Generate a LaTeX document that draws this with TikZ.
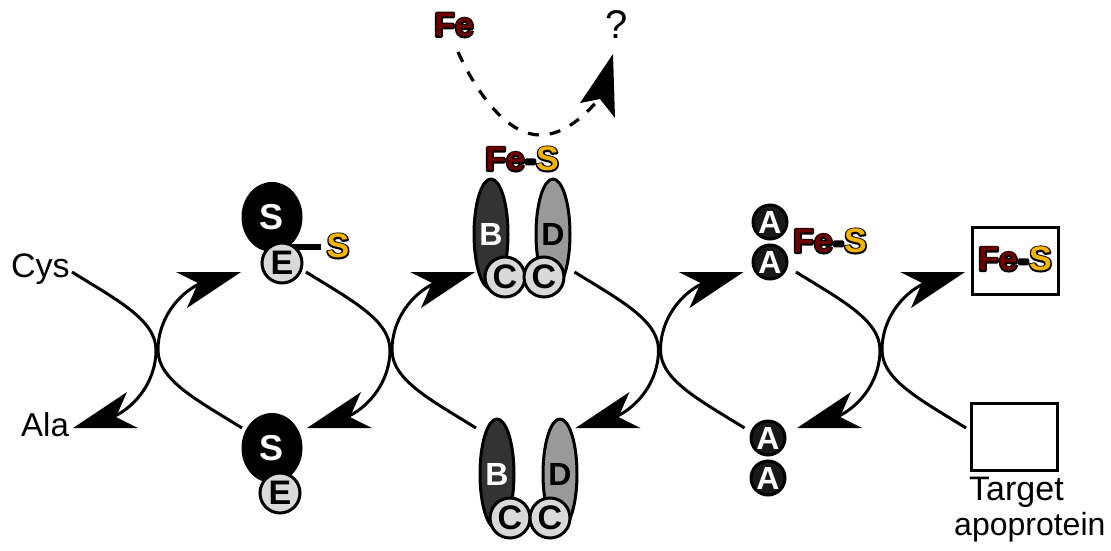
\documentclass[tikz,border=0pt]{standalone}
\usepackage{fontspec}
\setmainfont{Liberation Sans}
\usetikzlibrary{shapes.geometric}

\definecolor{fered}{RGB}{110,0,0}
\definecolor{sgold}{RGB}{245,180,0}
\definecolor{lightg}{RGB}{217,217,217}
\definecolor{darkg}{RGB}{51,51,51}
\definecolor{midg}{RGB}{153,153,153}
\definecolor{beadg}{RGB}{25,25,25}

\newcommand\fsz[1]{\fontsize{#1}{#1}\selectfont}
% coloured glyphs over a wide black stroke of the same glyphs
\newcommand\outl[2]{%
  \rlap{\color{black}\special{pdf:literal direct 0 G 1 Tr 3 w 1 j}#2\special{pdf:literal direct 0 Tr}}%
  {\color{#1}#2}}
\newcommand\fes{\outl{fered}{Fe}\outl{black}{-}\outl{sgold}{S}}

\tikzset{
  arc/.style={line width=3pt},
  % one curved transfer arrow, drawn around the centre of an exchange
  halfswap/.pic={
    \draw[arc] (85,78) .. controls (40,50) and (1,30) .. (1,0)
                       .. controls (1,-30) and (20,-55) .. (42,-66);
    \fill (84,-78) -- (19,-78) -- (41,-67) -- (30,-42) -- cycle;
  },
  % pair of crossing arrows between two neighbouring stages
  swap/.pic={
    \pic {halfswap};
    \pic[rotate=180] {halfswap};
  },
  dom/.style={ellipse, draw, line width=3pt, fill=black, inner sep=0pt,
    minimum width=58pt, minimum height=67pt, text=white, font=\bfseries\fsz{36}},
  subE/.style={circle, draw, line width=3pt, fill=lightg, inner sep=0pt,
    minimum size=40pt, font=\bfseries\fsz{34}},
  rod/.style={ellipse, draw, line width=3pt, inner sep=0pt,
    minimum width=34pt, minimum height=110pt, font=\bfseries\fsz{32}},
  bead/.style={circle, draw, line width=3pt, fill=beadg, inner sep=0pt,
    minimum size=34pt, text=white, font=\bfseries\fsz{32}},
  lbl/.style={font=\fsz{33}, inner sep=0pt},
  cluster/.style={font=\bfseries\fsz{34}, inner sep=0pt},
  apo/.style={draw, line width=3pt, minimum width=86pt, minimum height=67pt, inner sep=0pt},
}

\begin{document}
\begin{tikzpicture}[x=1pt,y=-1pt]
\useasboundingbox (0,0) rectangle (1111,551);

% exchange arrows between the stages
\pic at (157,350) {swap};
\pic at (391,350) {swap};
\pic at (659.5,350) {swap};
\pic at (881,350) {swap};

% substrate labels
\node[lbl, font=\fsz{34}, anchor=base west] (cys) at (11,277) {Cys};
\node[lbl, anchor=base west] (ala) at (21,436) {Ala};

% cysteine desulfurase with bound sulfur
\draw[line width=6pt] (290,247) -- (321,247);
\node[dom] (s1) at (272,217) {S};
\node[subE] (e1) at (282,263) {E};
\node[font=\bfseries\fsz{34}, inner sep=0pt] (sg) at (338,246) {\outl{sgold}{S}};

\node[dom] (s2) at (272,448) {S};
\node[subE] (e2) at (280,493) {E};

% scaffold complex with cluster
\node[rod, fill=darkg, text=white] (b1) at (491,234) {B};
\node[rod, fill=midg] (d1) at (553,234) {D};
\node[subE] (c1) at (505,277) {C};
\node[subE] (c2) at (544,277) {C};
\node[cluster] (fs1) at (522,159) {\fes};

\node[rod, fill=darkg, text=white] (b2) at (497,474) {B};
\node[rod, fill=midg] (d2) at (560,474) {D};
\node[subE] (c3) at (510,518) {C};
\node[subE] (c4) at (550,518) {C};

% iron supply
\node[cluster] (fe) at (454,25) {\outl{fered}{Fe}};
\node[font=\fsz{40}, inner sep=0pt] (q) at (617,25) {?};
\coordinate (dstart) at (458,52);
\coordinate (dend) at (600,98);
\draw[line width=3.2pt, dash pattern=on 11pt off 11pt] (dstart)
  .. controls (480,100) and (510,135) .. (540,135)
  .. controls (565,135) and (585,115) .. (dend);
\fill (613,54) -- (580,103) -- (600,99) -- (615,118) -- cycle;

% carrier dimer
\node[bead] (a1) at (770,222) {A};
\node[bead] (a2) at (770,262) {A};
\node[cluster] (fs2) at (830,241) {\fes};

\node[bead] (a3) at (768,438) {A};
\node[bead] (a4) at (768,478) {A};

% target apoprotein
\node[apo] (t1) at (1015,260.5) {};
\node[cluster] (fs3) at (1015,259) {\fes};
\node[apo] (t2) at (1014,436.5) {};
\node[lbl, font=\fsz{34}, anchor=base west] (tg1) at (969,500) {Target};
\node[lbl, font=\fsz{32}, anchor=base west] (tg2) at (954,535) {apoprotein};

\end{tikzpicture}
\end{document}
